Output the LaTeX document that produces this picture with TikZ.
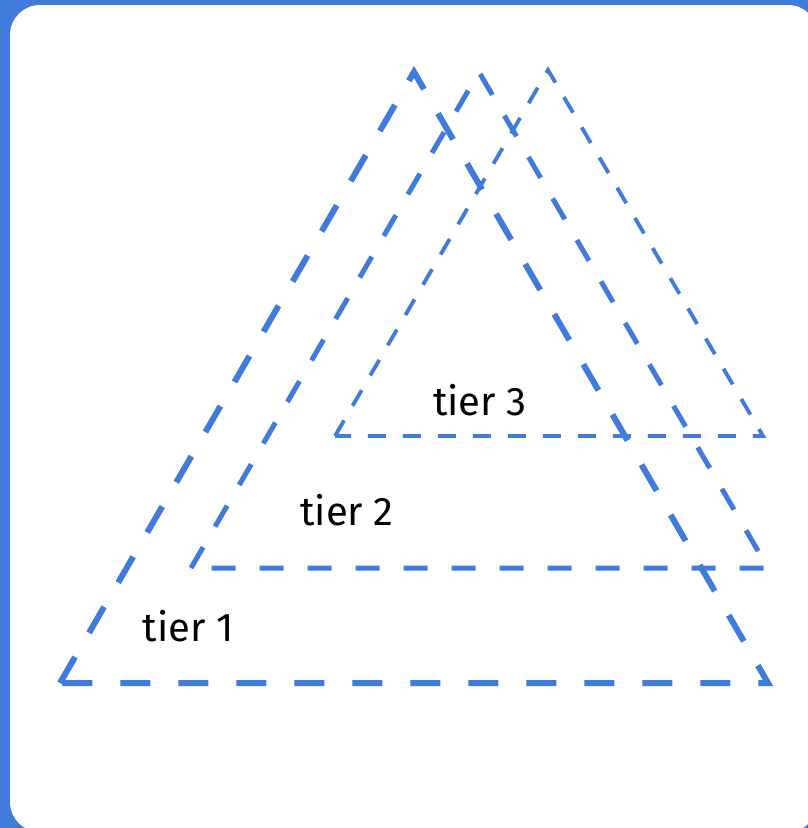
\documentclass[tikz,border=0pt]{standalone}
\usepackage{fontspec}
\setmainfont{Fira Sans}
\usepackage{tikz}
\usetikzlibrary{positioning}
\definecolor{tierblue}{RGB}{64,122,218}

\begin{document}
\begin{tikzpicture}[x=1pt,y=-1pt,
  tierone/.style={draw=tierblue,line width=6pt,dash pattern=on 30pt off 28pt},
  tiertwo/.style={draw=tierblue,line width=5pt,dash pattern=on 24pt off 24pt},
  tierthree/.style={draw=tierblue,line width=3.8pt,dash pattern=on 18pt off 17pt},
  tierlabel/.style={anchor=base,font=\fontsize{40}{46}\selectfont}]
  \clip (0,0) rectangle (808,828);
  \fill[tierblue] (0,0) rectangle (808,828);
  \fill[white,rounded corners=30pt] (10,5) rectangle (818,832);
  % the three layers
  \coordinate (a1) at (414,72);  \coordinate (l1) at (60,683);  \coordinate (r1) at (768,683);
  \coordinate (a2) at (479,72);  \coordinate (l2) at (191,568); \coordinate (r2) at (768,568);
  \coordinate (a3) at (548,70);  \coordinate (l3) at (335,436); \coordinate (r3) at (763,436);
  \draw[tierone] (l1) -- (a1) -- (r1) -- cycle;
  \draw[tiertwo] (l2) -- (a2) -- (r2) -- cycle;
  \draw[tierthree] (l3) -- (a3) -- (r3) -- cycle;
  \node[tierlabel] (t3) at (480,415) {tier 3};
  \node[tierlabel] (t2) at (347,525) {tier 2};
  \node[tierlabel] (t1) at (188,641) {tier 1};
\end{tikzpicture}
\end{document}
